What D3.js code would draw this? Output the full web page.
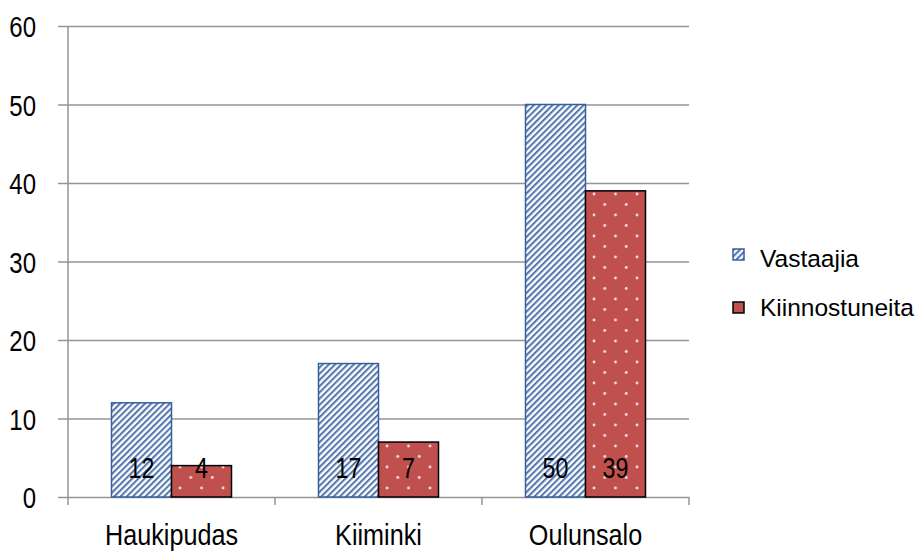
<!DOCTYPE html>
<html><head><meta charset="utf-8">
<script src="https://cdn.jsdelivr.net/npm/d3@7"></script>
<style>body{margin:0;background:#fff}svg{display:block}</style>
</head><body>
<script>
const categories = ["Haukipudas", "Kiiminki", "Oulunsalo"];
const seriesNames = ["Vastaajia", "Kiinnostuneita"];
const vastaajia = [12, 17, 50];
const kiinnostuneita = [4, 7, 39];
const yTicks = [0, 10, 20, 30, 40, 50, 60];

const W = 924, H = 551;
const font = "'Liberation Sans',Arial,sans-serif";
const sx = 0.8; // horizontal squeeze for narrow axis text
const svg = d3.select("body").append("svg").attr("width", W).attr("height", H);
const defs = svg.append("defs");
const hatch = defs.append("pattern").attr("id", "hatch").attr("patternUnits", "userSpaceOnUse")
  .attr("width", 4.4).attr("height", 4.4).attr("patternTransform", "rotate(45)");
hatch.append("rect").attr("width", 4.4).attr("height", 4.4).attr("fill", "#fff");
hatch.append("rect").attr("width", 2.1).attr("height", 4.4).attr("fill", "#5579b0");
const dots = defs.append("pattern").attr("id", "dots").attr("patternUnits", "userSpaceOnUse")
  .attr("width", 21.5).attr("height", 21);
dots.append("rect").attr("width", 21.5).attr("height", 21).attr("fill", "#c0504d");
dots.append("circle").attr("cx", 4).attr("cy", 5).attr("r", 1.4).attr("fill", "#f6dede");
dots.append("circle").attr("cx", 14.75).attr("cy", 15.5).attr("r", 1.4).attr("fill", "#f6dede");

const x0 = 68, x1 = 689, yTop = 26, yBot = 497;
const x = d3.scaleBand().domain(categories).range([x0, x1]).paddingInner(0).paddingOuter(0);
const y = d3.scaleLinear().domain([0, 60]).range([yBot, yTop]);
const groupW = 120;
const xs = d3.scaleBand().domain(seriesNames).range([0, groupW]);

// gridlines + y axis
const yAxis = d3.axisLeft(y).tickValues(yTicks).tickSize(-(x1 - x0)).tickSizeOuter(0).tickFormat(d3.format("d"));
const gy = svg.append("g").attr("transform", `translate(${x0},0)`).call(yAxis);
gy.select(".domain").remove();
gy.selectAll(".tick line").attr("stroke", "#949494").attr("stroke-width", 1.5);
gy.selectAll(".tick").append("line").attr("x1", -10).attr("x2", 0).attr("stroke", "#949494").attr("stroke-width", 1.5);
gy.selectAll(".tick text").attr("font-family", font).attr("font-size", 30).attr("fill", "#000")
  .attr("x", 0).attr("dy", "0.36em").attr("text-anchor", "end")
  .attr("transform", `translate(-32,0) scale(${sx},1)`);
svg.append("line").attr("x1", x0).attr("x2", x0).attr("y1", yTop).attr("y2", yBot + 8).attr("stroke", "#949494").attr("stroke-width", 1.5);

// category ticks
const bounds = categories.map(c => x(c) + x.bandwidth());
svg.selectAll("line.ct").data(bounds).join("line").attr("class", "ct")
  .attr("x1", d => d).attr("x2", d => d).attr("y1", yBot).attr("y2", yBot + 8)
  .attr("stroke", "#949494").attr("stroke-width", 1.5);

const data = categories.map((c, i) => ({cat: c, vals: [vastaajia[i], kiinnostuneita[i]]}));
const groups = svg.selectAll("g.grp").data(data).join("g")
  .attr("transform", d => `translate(${x(d.cat) + x.bandwidth() / 2 - groupW / 2},0)`);
groups.selectAll("rect").data(d => d.vals.map((v, j) => ({v, s: seriesNames[j], j}))).join("rect")
  .attr("x", d => xs(d.s)).attr("width", xs.bandwidth())
  .attr("y", d => y(d.v)).attr("height", d => y(0) - y(d.v))
  .attr("fill", d => d.j === 0 ? "url(#hatch)" : "url(#dots)")
  .attr("stroke", d => d.j === 0 ? "#36609c" : "#000").attr("stroke-width", 1.5);
groups.selectAll("text").data(d => d.vals.map((v, j) => ({v, s: seriesNames[j]}))).join("text")
  .attr("transform", d => `translate(${xs(d.s) + xs.bandwidth() / 2},478) scale(${sx},1)`)
  .attr("text-anchor", "middle").attr("font-family", font).attr("font-size", 29).attr("fill", "#000")
  .text(d => d.v);

// category labels
svg.selectAll("text.cl").data(categories).join("text").attr("class", "cl")
  .attr("transform", d => `translate(${x(d) + x.bandwidth() / 2},545) scale(0.84,1)`)
  .attr("text-anchor", "middle").attr("font-family", font).attr("font-size", 30).attr("fill", "#000")
  .text(d => d);

// legend
const leg = svg.selectAll("g.leg").data(seriesNames).join("g").attr("class", "leg")
  .attr("transform", (d, i) => `translate(733,${249 + i * 53})`);
leg.append("rect").attr("width", 11).attr("height", 11)
  .attr("fill", (d, i) => i === 0 ? "url(#hatch)" : "#c0504d")
  .attr("stroke", (d, i) => i === 0 ? "#36609c" : "#000").attr("stroke-width", 1.5);
leg.append("text").attr("x", 27).attr("y", (d, i) => i === 0 ? 18 : 14).attr("font-family", font).attr("font-size", 24.5).attr("fill", "#000").text(d => d);
</script>
</body></html>
